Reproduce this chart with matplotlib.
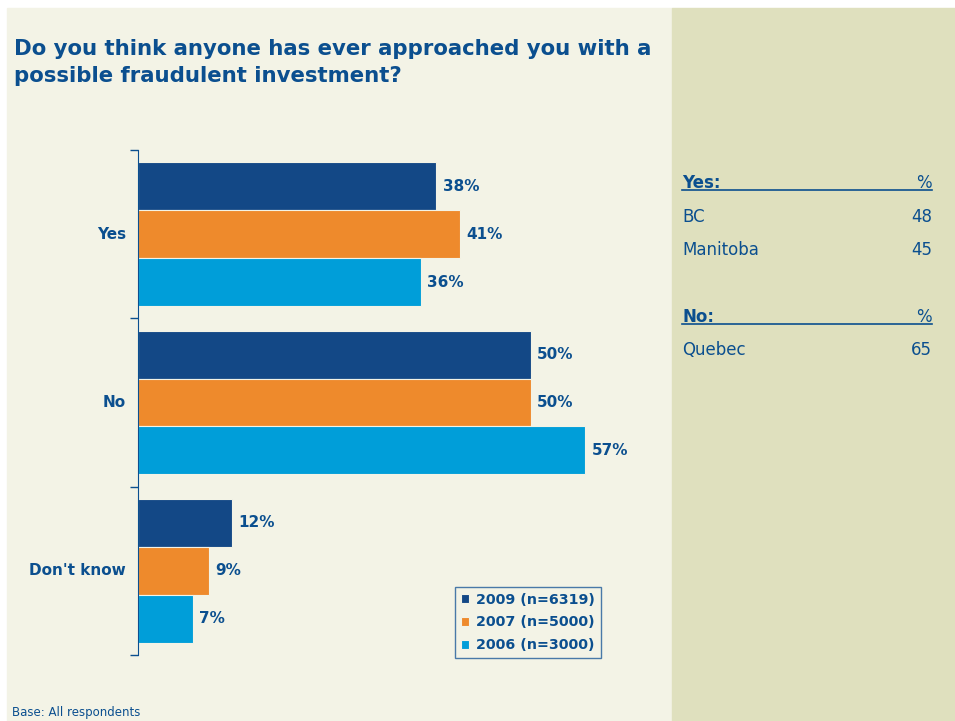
import numpy as np
import matplotlib.pyplot as plt
from matplotlib.patches import Rectangle

categories = ['Yes', 'No', "Don't know"]
series_names = ['2009 (n=6319)', '2007 (n=5000)', '2006 (n=3000)']
values = {
    '2009 (n=6319)': [38, 50, 12],
    '2007 (n=5000)': [41, 50, 9],
    '2006 (n=3000)': [36, 57, 7],
}
colors = ['#134886', '#EE8A2C', '#009ED9']

yes_rows = [('BC', 48), ('Manitoba', 45)]
no_rows = [('Quebec', 65)]

text_blue = '#0B4F8F'
W, H = 955, 721
plt.rcParams['font.family'] = ['DejaVu Sans']

fig = plt.figure(figsize=(W / 100, H / 100), dpi=100)
fig.patch.set_facecolor('white')


def fy(py):
    return 1 - py / H


# backgrounds
fig.add_artist(Rectangle((7 / W, 0), (672 - 7) / W, (H - 8) / H,
                         transform=fig.transFigure, color='#F3F3E6', zorder=0))
fig.add_artist(Rectangle((672 / W, 0), (W - 672) / W, (H - 8) / H,
                         transform=fig.transFigure, color='#DFE0BE', zorder=0))

fig.text(14 / W, fy(55), 'Do you think anyone has ever approached you with a',
         color=text_blue, fontsize=15.3, fontweight='bold', va='baseline')
fig.text(14 / W, fy(82), 'possible fraudulent investment?',
         color=text_blue, fontsize=15.3, fontweight='bold', va='baseline')

# bar chart axes (pixel placement)
ax = fig.add_axes([138 / W, 66 / H, (672 - 138) / W, 505 / H])
ax.set_facecolor('none')
ax.set_xlim(0, (672 - 138) / 7.85)
ax.set_ylim(2.5, -0.5)
ax.set_yticks([-0.5, 0.5, 1.5, 2.5])
ax.set_yticklabels([])
ax.tick_params(axis='y', direction='out', length=6, color=text_blue, width=1)
ax.set_xticks([])
for s in ['top', 'right', 'bottom']:
    ax.spines[s].set_visible(False)
ax.spines['left'].set_color(text_blue)

y = np.arange(len(categories))
h = 0.285
for i, name in enumerate(series_names):
    pos = y + (i - 1) * h
    bars = ax.barh(pos, values[name], height=h, color=colors[i], edgecolor='#F3F3E6',
                   linewidth=0.8, label=name)
    for b, v in zip(bars, values[name]):
        ax.text(v + 0.8, b.get_y() + b.get_height() / 2, f'{v}%', va='center', ha='left',
                color=text_blue, fontsize=11, fontweight='bold')

for yi, c in zip(y, categories):
    ax.text(-1.5, yi, c, ha='right', va='center', color=text_blue, fontsize=11, fontweight='bold')

leg = ax.legend(loc='lower left', bbox_to_anchor=((455 - 138) / (672 - 138), -3 / 505),
                frameon=True, fancybox=False, handlelength=0.6, handleheight=0.6, handletextpad=0.5,
                borderpad=0.4, labelspacing=0.62, borderaxespad=0,
                prop={'weight': 'bold', 'size': 10.3})
leg.get_frame().set_edgecolor('#1F5B99')
leg.get_frame().set_facecolor('#F3F3E6')
leg.get_frame().set_linewidth(1)
for t in leg.get_texts():
    t.set_color(text_blue)

# right-hand table
x0, x1 = 682 / W, 932 / W


def header(label, py):
    fig.text(x0, fy(py), label, color=text_blue, fontsize=12, fontweight='bold', va='baseline')
    fig.text(x1, fy(py), '%', color=text_blue, fontsize=12, ha='right', va='baseline')
    fig.add_artist(plt.Line2D([x0, x1], [fy(py + 2), fy(py + 2)], color=text_blue, lw=1.2))


def row(label, val, py):
    fig.text(x0, fy(py), label, color=text_blue, fontsize=12, va='baseline')
    fig.text(x1, fy(py), str(val), color=text_blue, fontsize=12, ha='right', va='baseline')


header('Yes:', 188)
for k, (lab, v) in enumerate(yes_rows):
    row(lab, v, 222 + k * 33)
header('No:', 322)
for k, (lab, v) in enumerate(no_rows):
    row(lab, v, 355 + k * 33)

fig.text(12 / W, fy(716), 'Base: All respondents', color=text_blue, fontsize=8.5, va='baseline')

fig.savefig('out.png', dpi=100, facecolor=fig.get_facecolor())
